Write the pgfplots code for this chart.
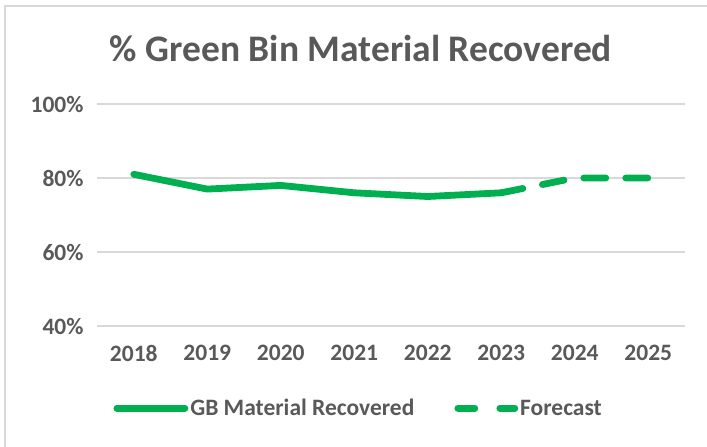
\documentclass[border=0pt]{standalone}
\usepackage{fontspec}
\setmainfont{Carlito}
\usepackage{pgfplots}
\pgfplotsset{compat=1.18}
\definecolor{gbgreen}{HTML}{00B050}
\definecolor{txtgray}{HTML}{595959}
\definecolor{gridgray}{HTML}{D9D9D9}
\pgfplotsset{
    solidleg/.style = {legend image code/.code={\draw[#1] (0pt,0pt) -- (68pt,0pt);}},
    dashleg/.style  = {legend image code/.code={\draw[#1, dash pattern=on 17pt off 25pt] (0pt,0pt) -- (57pt,0pt);}},
}
\begin{document}
\begin{tikzpicture}
    % page frame, 1pt = 1px of the reference
    \path[use as bounding box] (0pt,0pt) rectangle (707pt,-447pt);
    \draw[gridgray, line width=1.2pt] (5pt,-447pt) -- (5pt,-6pt) -- (707pt,-6pt);
    \node[text=txtgray, font=\fontsize{37.5}{44}\selectfont\bfseries] at (361pt,-48pt)
        {\% Green Bin Material Recovered};
    \begin{axis}[
        at                 = {(97pt,-326pt)},
        anchor             = south west,
        scale only axis,
        width              = 588pt,
        height             = 222pt,
        xmin = -0.5, xmax = 7.5,
        ymin = 40,   ymax = 100,
        xtick              = {0,...,7},
        xticklabels        = {2018,2019,2020,2021,2022,2023,2024,2025},
        ytick              = {40,60,80,100},
        yticklabel         = {\pgfmathprintnumber{\tick}\%},
        /pgf/number format/assume math mode = true,
        ticklabel style    = {text=txtgray, font=\fontsize{23.5}{28}\selectfont\bfseries},
        xticklabel style   = {yshift=-16pt},
        yticklabel style   = {xshift=-10pt},
        axis line style    = {draw=none},
        major tick style   = {draw=none},
        ymajorgrids        = true,
        grid style         = {gridgray, line width=1.5pt},
        legend style       = {
            at = {(0.445,-0.37)}, anchor = center, draw = none,
            text = txtgray, font = \fontsize{23.5}{28}\selectfont\bfseries,
            legend columns = 2,
            /tikz/every even column/.append style = {column sep=38pt},
        },
        legend cell align  = left,
    ]
        % recovered
        \addplot[gbgreen, line width=6.8pt, line join=round, line cap=round, solidleg]
            coordinates {(0,81) (1,77) (2,78) (3,76) (4,75) (5,76)};
        \addlegendentry{GB Material Recovered}

        % forecast
        \addplot[gbgreen, line width=6.8pt, line join=round, line cap=round,
            dash pattern=on 22pt off 20pt, dashleg]
            coordinates {(5,76) (6,80) (7,80)};
        \addlegendentry{Forecast}
    \end{axis}
\end{tikzpicture}
\end{document}
